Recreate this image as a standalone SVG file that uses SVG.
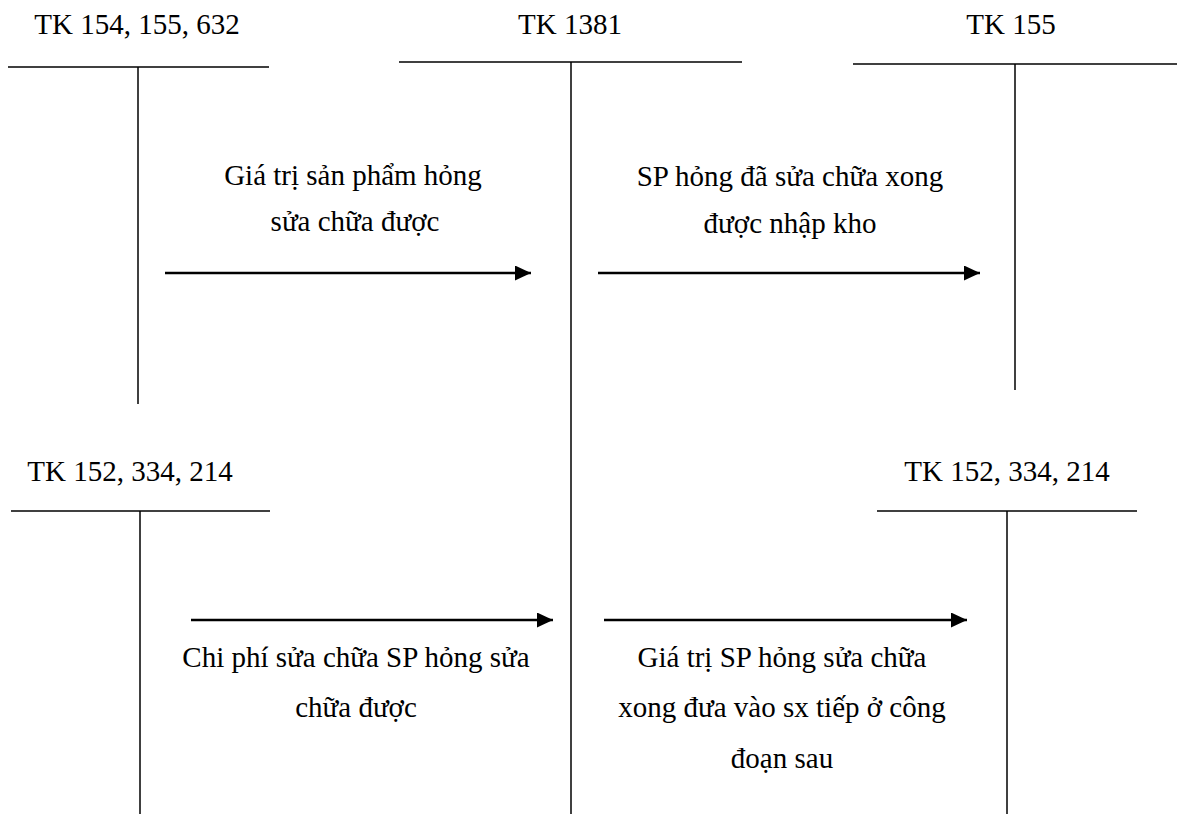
<svg xmlns="http://www.w3.org/2000/svg" width="1180" height="814" viewBox="0 0 1180 814">
<style>
  .bg { fill: #ffffff; }
  .t { font-family: 'Liberation Serif', Tinos, 'Times New Roman', 'Nimbus Roman', 'DejaVu Serif', serif; font-size: 29px; fill: #000; text-anchor: middle; }
  .acc { stroke: #000; stroke-width: 1.5; fill: none; }
  .arr { stroke: #000; stroke-width: 2.5; fill: none; marker-end: url(#ah); }
</style>
<defs>
  <marker id="ah" markerUnits="userSpaceOnUse" markerWidth="18" markerHeight="17" refX="16" refY="7.5" orient="auto">
    <path d="M0,0 L16,7.5 L0,15 z" fill="#000"/>
  </marker>
</defs>
<rect class="bg" x="0" y="0" width="1180" height="814"/>

<g id="tk154">
  <text class="t" x="137" y="34">TK 154, 155, 632</text>
  <line class="acc" x1="8" y1="67" x2="269" y2="67"/>
  <line class="acc" x1="138" y1="67" x2="138" y2="404"/>
</g>

<g id="tk1381">
  <text class="t" x="570" y="34">TK 1381</text>
  <line class="acc" x1="399" y1="62" x2="742" y2="62"/>
  <line class="acc" x1="571" y1="62" x2="571" y2="814"/>
</g>

<g id="tk155">
  <text class="t" x="1011" y="34">TK 155</text>
  <line class="acc" x1="853" y1="64" x2="1177" y2="64"/>
  <line class="acc" x1="1015" y1="64" x2="1015" y2="390"/>
</g>

<g id="tk152-left">
  <text class="t" x="130" y="481">TK 152, 334, 214</text>
  <line class="acc" x1="11" y1="511" x2="270" y2="511"/>
  <line class="acc" x1="140" y1="511" x2="140" y2="814"/>
</g>

<g id="tk152-right">
  <text class="t" x="1007" y="481">TK 152, 334, 214</text>
  <line class="acc" x1="877" y1="511" x2="1137" y2="511"/>
  <line class="acc" x1="1007" y1="511" x2="1007" y2="814"/>
</g>

<g id="connectors">
  <line class="arr" x1="165" y1="273" x2="531" y2="273"/>
  <line class="arr" x1="598" y1="273" x2="980" y2="273"/>
  <line class="arr" x1="191" y1="620" x2="553" y2="620"/>
  <line class="arr" x1="604" y1="620" x2="967" y2="620"/>
</g>

<g id="labels">
  <text class="t" x="353" y="185">Giá trị sản phẩm hỏng</text>
  <text class="t" x="355" y="231">sửa chữa được</text>

  <text class="t" x="790" y="186">SP hỏng đã sửa chữa xong</text>
  <text class="t" x="790" y="233">được nhập kho</text>

  <text class="t" x="356" y="667">Chi phí sửa chữa SP hỏng sửa</text>
  <text class="t" x="356" y="717">chữa được</text>

  <text class="t" x="782" y="667">Giá trị SP hỏng sửa chữa</text>
  <text class="t" x="782" y="717">xong đưa vào sx tiếp ở công</text>
  <text class="t" x="782" y="768">đoạn sau</text>
</g>
</svg>
